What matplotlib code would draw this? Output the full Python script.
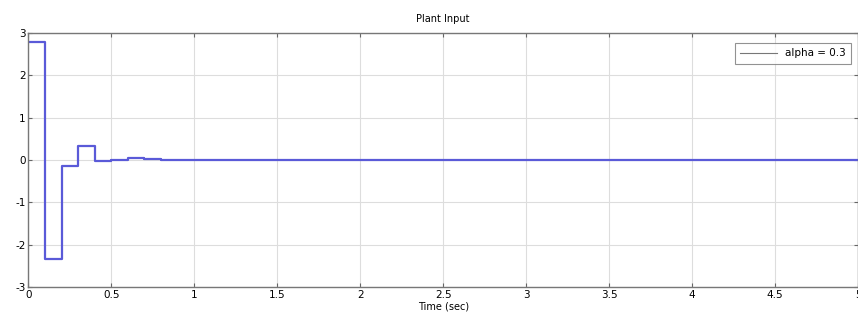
import numpy as np
import matplotlib.pyplot as plt

plt.rcParams["axes.unicode_minus"] = False

# plant input, zero-order hold with 0.1 s sample time
t_steps = [0.0, 0.1, 0.2, 0.3, 0.4, 0.5, 0.6, 0.7, 0.8, 5.0]
u_steps = [2.78, -2.33, -0.14, 0.32, -0.02, 0.0, 0.04, 0.02, 0.01, 0.01]
series_label = "alpha = 0.3"

x_ticks = [0, 0.5, 1, 1.5, 2, 2.5, 3, 3.5, 4, 4.5, 5]
x_tick_labels = ["0", "0.5", "1", "1.5", "2", "2.5", "3", "3.5", "4", "4.5", "5"]
y_ticks = [-3, -2, -1, 0, 1, 2, 3]

fig = plt.figure(figsize=(8.58, 3.23), dpi=100)
ax = fig.add_axes([0.033, 0.111, 0.967, 0.787])

ax.step(t_steps, u_steps, where="post", color="#5a5ad8", lw=1.6, label=series_label)

ax.set_xlim(0, 5)
ax.set_ylim(-3, 3)
ax.set_xticks(x_ticks)
ax.set_xticklabels(x_tick_labels)
ax.set_yticks(y_ticks)
ax.tick_params(direction="in", labelsize=7.5, top=True, right=True, length=3, color="#666666", pad=2)
ax.grid(True, color="#dddddd", linestyle="-", lw=0.8)
for s in ax.spines.values():
    s.set_color("#777777")
    s.set_linewidth(1.0)

ax.set_title("Plant Input", fontsize=7, pad=8)
ax.set_xlabel("Time (sec)", fontsize=7, labelpad=1)

leg = ax.legend(loc="upper right", fontsize=7.5, frameon=True, fancybox=False,
                handlelength=3.5, borderpad=0.5, bbox_to_anchor=(0.998, 0.98))
leg.get_frame().set_edgecolor("#777777")
leg.get_frame().set_linewidth(0.8)
leg.get_lines()[0].set_color("#777777")
leg.get_lines()[0].set_linewidth(0.8)

plt.savefig("out.png", dpi=100)
